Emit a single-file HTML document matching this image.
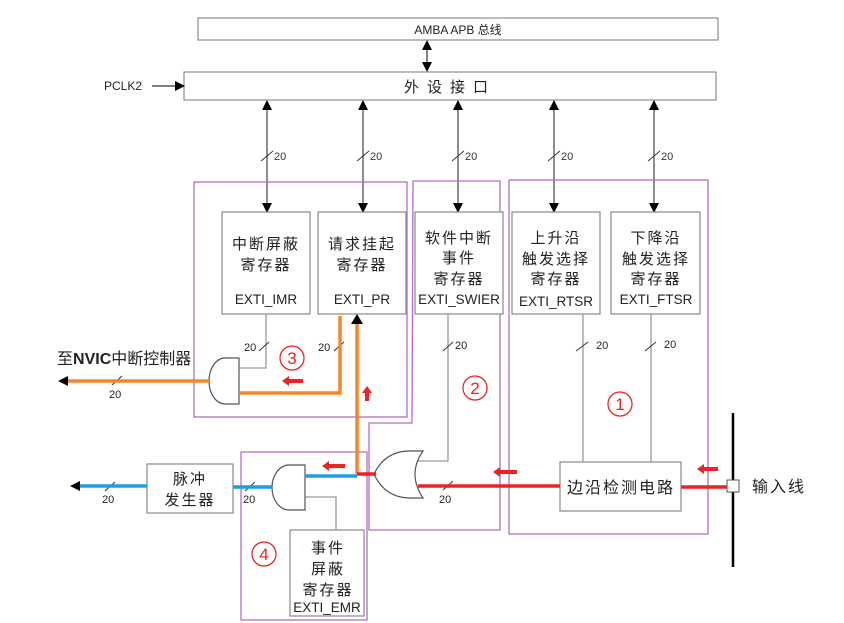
<!DOCTYPE html>
<html><head><meta charset="utf-8"><style>
body{margin:0;background:#fff}
svg{display:block}
text{font-family:"Liberation Sans","Noto Sans CJK SC",sans-serif;fill:#222}
.cn{font-size:15px;letter-spacing:2px}
.en{font-size:13.5px;fill:#111}
.sm{font-size:11px;fill:#333}
</style></head><body>
<svg width="844" height="623" viewBox="0 0 844 623" xmlns="http://www.w3.org/2000/svg">
<defs>
<marker id="ah" markerWidth="10" markerHeight="10" refX="9" refY="5" orient="auto-start-reverse" markerUnits="userSpaceOnUse"><path d="M0,0 L10,5 L0,10 z" fill="#000"/></marker>
</defs>
<!-- top bus -->
<rect x="198" y="18" width="520" height="22" fill="#fff" stroke="#777"/>
<text x="458" y="34" text-anchor="middle" style="font-size:12px">AMBA APB 总线</text>
<rect x="184" y="72" width="532" height="28" fill="#fff" stroke="#777"/>
<text x="450" y="92" text-anchor="middle" class="cn" style="letter-spacing:8px">外设接口</text>
<line x1="427" y1="41" x2="427" y2="71" stroke="#000" marker-end="url(#ah)" marker-start="url(#ah)"/>
<text x="104" y="90" style="font-size:12px">PCLK2</text>
<line x1="152" y1="86" x2="184" y2="86" stroke="#000" marker-end="url(#ah)"/>
<!-- verticals -->
<g stroke="#444" stroke-width="1.2">
<line x1="267" y1="101" x2="267" y2="212" marker-end="url(#ah)" marker-start="url(#ah)"/>
<line x1="363" y1="101" x2="363" y2="212" marker-end="url(#ah)" marker-start="url(#ah)"/>
<line x1="458" y1="101" x2="458" y2="212" marker-end="url(#ah)" marker-start="url(#ah)"/>
<line x1="554" y1="101" x2="554" y2="212" marker-end="url(#ah)" marker-start="url(#ah)"/>
<line x1="654" y1="101" x2="654" y2="212" marker-end="url(#ah)" marker-start="url(#ah)"/>
</g>
<g stroke="#333" stroke-width="1">
<line x1="261" y1="161" x2="273" y2="151"/><line x1="357" y1="161" x2="369" y2="151"/><line x1="452" y1="161" x2="464" y2="151"/><line x1="548" y1="161" x2="560" y2="151"/><line x1="648" y1="161" x2="660" y2="151"/>
</g>
<g class="sm"><text x="274" y="160" class="sm">20</text><text x="370" y="160" class="sm">20</text><text x="465" y="160" class="sm">20</text><text x="561" y="160" class="sm">20</text><text x="661" y="160" class="sm">20</text></g>
<!-- purple boxes -->
<g fill="none" stroke="#b46cc4" stroke-width="1.3">
<rect x="194" y="182" width="213" height="235"/>
<path d="M413,181 H500 V530 H369 V423 H412 Z"/>
<rect x="509" y="180" width="199" height="354"/>
<rect x="241" y="452" width="126" height="168"/>
</g>
<!-- registers -->
<g fill="#fff" stroke="#888" stroke-width="1.2">
<rect x="222" y="212" width="88" height="102"/>
<rect x="318" y="212" width="88" height="102"/>
<rect x="415" y="212" width="88" height="102"/>
<rect x="512" y="212" width="88" height="102"/>
<rect x="611" y="212" width="89" height="102"/>
<rect x="560" y="462" width="121" height="49"/>
<rect x="147" y="464" width="86" height="49"/>
<rect x="290" y="530" width="74" height="86"/>
</g>
<g class="cn" text-anchor="middle">
<text x="266" y="249">中断屏蔽</text><text x="266" y="270">寄存器</text>
<text x="362" y="249">请求挂起</text><text x="362" y="270">寄存器</text>
<text x="459" y="243">软件中断</text><text x="459" y="263">事件</text><text x="459" y="284">寄存器</text>
<text x="556" y="243">上升沿</text><text x="556" y="264">触发选择</text><text x="556" y="284">寄存器</text>
<text x="656" y="243">下降沿</text><text x="656" y="264">触发选择</text><text x="656" y="284">寄存器</text>
<text x="621" y="493" style="font-size:16px">边沿检测电路</text>
<text x="190" y="484">脉冲</text><text x="190" y="505">发生器</text>
<text x="328" y="553">事件</text><text x="328" y="574">屏蔽</text><text x="328" y="595">寄存器</text>
</g>
<text x="752" y="492" class="cn" style="font-size:16px">输入线</text>
<g class="en" text-anchor="middle">
<text x="266" y="304">EXTI_IMR</text><text x="362" y="304">EXTI_PR</text><text x="459" y="304">EXTI_SWIER</text>
<text x="556" y="306">EXTI_RTSR</text><text x="656" y="304">EXTI_FTSR</text><text x="327" y="612">EXTI_EMR</text>
</g>
<!-- gray connections -->
<g stroke="#999" stroke-width="1.3" fill="none">
<path d="M266,314 V368 H239"/>
<path d="M448,314 V461 H418"/>
<path d="M583,314 V462"/>
<path d="M651,314 V462"/>
<path d="M336,530 V497 H305"/>
</g>
<g stroke="#333"><line x1="259" y1="351" x2="269" y2="342"/><line x1="334" y1="351" x2="344" y2="342"/><line x1="443" y1="351" x2="453" y2="342"/><line x1="576" y1="351" x2="588" y2="342"/><line x1="645" y1="351" x2="656" y2="342"/>
<line x1="443" y1="490" x2="453" y2="481"/><line x1="245" y1="491" x2="255" y2="482"/><line x1="105" y1="491" x2="115" y2="482"/><line x1="112" y1="385" x2="122" y2="376"/></g>
<g class="sm"><text x="244" y="351">20</text><text x="318" y="351">20</text><text x="455" y="349">20</text><text x="596" y="349">20</text><text x="664" y="348">20</text>
<text x="439" y="503">20</text><text x="243" y="503">20</text><text x="102" y="503">20</text><text x="109" y="398">20</text></g>
<!-- gates -->
<path d="M239,358 H225 A16,23 0 0 0 225,404 H239 Z" fill="#fff" stroke="#555" stroke-width="1.2"/>
<path d="M305,465 H289 A17,22.5 0 0 0 289,510 H305 Z" fill="#fff" stroke="#555" stroke-width="1.2"/>
<path d="M423,451 Q407,474 423,498 H410 Q385,498 374,474 Q385,451 410,451 Z" fill="#fff" stroke="#555" stroke-width="1.2"/>
<!-- colored lines -->
<g fill="none" stroke-width="3.5">
<path d="M340,316 V393 H239" stroke="#f58529"/>
<path d="M209,381 H68" stroke="#f58529"/>
<path d="M357,474 V322" stroke="#f58529"/>
<path d="M357,476 H305" stroke="#1aa0e2"/>
<path d="M272,487 H233" stroke="#1aa0e2"/>
<path d="M147,486 H78" stroke="#1aa0e2"/>
<path d="M357,474 H376" stroke="#ee2222"/>
<path d="M418,486 H560" stroke="#ee2222"/>
<path d="M681,487 H728" stroke="#ee2222"/>
</g>
<path d="M357,314 L351,324 H363 Z" fill="#000"/>
<path d="M58,381 L68,376 V386 Z" fill="#000"/>
<path d="M70,486 L80,481 V491 Z" fill="#000"/>
<!-- input line -->
<line x1="733" y1="413" x2="733" y2="567" stroke="#000" stroke-width="2.5"/>
<rect x="727" y="480" width="12" height="12" fill="#fff" stroke="#555"/>
<!-- red arrows -->
<g fill="#ee2222">
<path d="M282,381 l7,-5 v3 h14 v4 h-14 v3 z"/>
<path d="M367,386 l-5,7 h3 v8 h4 v-8 h3 z"/>
<path d="M322,466 l7,-5 v3 h16 v4 h-16 v3 z"/>
<path d="M493,472 l7,-5 v3 h17 v4 h-17 v3 z"/>
<path d="M697,469 l7,-5 v3 h14 v4 h-14 v3 z"/>
</g>
<g fill="none" stroke="#ee2222" stroke-width="1.3">
<circle cx="292" cy="358" r="12"/><circle cx="475" cy="388" r="12"/><circle cx="620" cy="404" r="12"/><circle cx="264" cy="554" r="12"/>
</g>
<g text-anchor="middle"><text x="292" y="364" style="fill:#ee2222;font-size:17px">3</text><text x="475" y="394" style="fill:#ee2222;font-size:17px">2</text><text x="620" y="410" style="fill:#ee2222;font-size:17px">1</text><text x="264" y="560" style="fill:#ee2222;font-size:17px">4</text></g>
<text x="57" y="364" style="font-size:16px;fill:#222"><tspan>至</tspan><tspan font-weight="bold">NVIC</tspan><tspan>中断控制器</tspan></text>
</svg>
</body></html>
